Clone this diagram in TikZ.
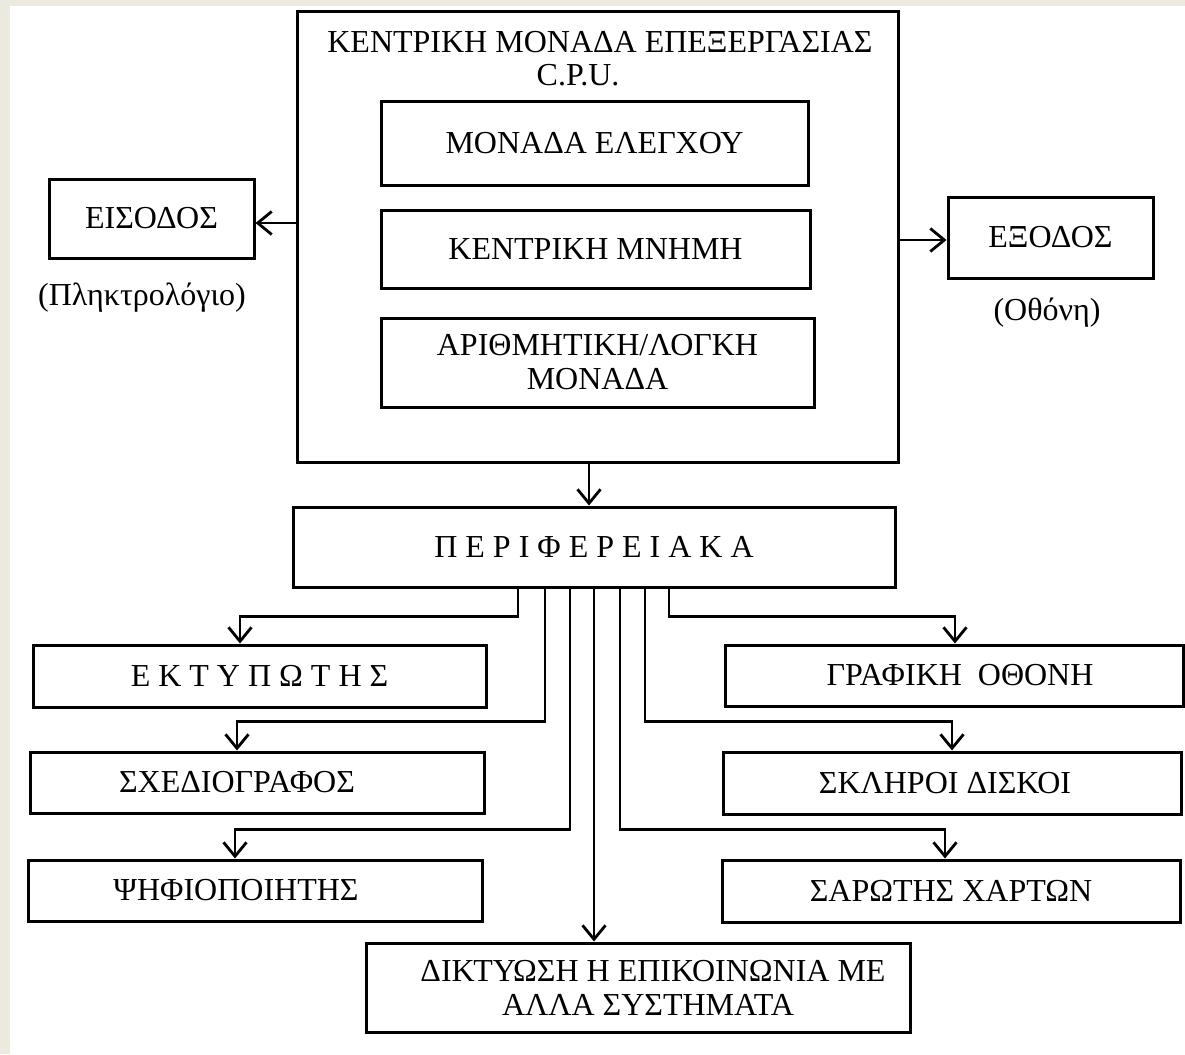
\documentclass[tikz,border=0pt]{standalone}
\usepackage{fontspec}
\setmainfont{Liberation Serif}
\usetikzlibrary{arrows.meta}
\definecolor{bgbeige}{RGB}{236,233,222}
\begin{document}
\begin{tikzpicture}[x=1pt,y=-1pt,
  box/.style={draw, line width=3pt, rectangle, inner sep=0pt, align=center,
    font=\fontsize{32}{34}\selectfont},
  txt/.style={inner sep=0pt, align=center, font=\fontsize{32}{34}\selectfont},
  arr/.style={line width=2.8pt, -{Straight Barb[length=14pt,width=23pt]}},
  ln/.style={line width=2.8pt}
]
\useasboundingbox (0,0) rectangle (1185,1054);
\fill[bgbeige] (0,0) rectangle (1185,1054);
\fill[white] (10,6) rectangle (1185,1054);

% CPU
\node[box, minimum width=601pt, minimum height=450pt] (cpu) at (597.5,237) {};
\node[txt] (cput1) at (600,42) {ΚΕΝΤΡΙΚΗ ΜΟΝΑΔΑ ΕΠΕΞΕΡΓΑΣΙΑΣ};
\node[txt] (cput2) at (578,75) {C.P.U.};
\node[box, minimum width=427pt, minimum height=83pt] (ctrl) at (594.5,143.5) {ΜΟΝΑΔΑ ΕΛΕΓΧΟΥ};
\node[box, minimum width=429pt, minimum height=78pt] (mem) at (595.5,249) {ΚΕΝΤΡΙΚΗ ΜΝΗΜΗ};
\node[box, minimum width=433pt, minimum height=89pt] (alu) at (597.5,362.5) {ΑΡΙΘΜΗΤΙΚΗ/ΛΟΓΚΗ\\ΜΟΝΑΔΑ};

% input / output
\node[box, minimum width=205pt, minimum height=79pt] (eis) at (151.5,218.5) {ΕΙΣΟΔΟΣ};
\node[txt] (eisl) at (142,298) {(Πληκτρολόγιο)};
\node[box, minimum width=205pt, minimum height=81pt] (exo) at (1050.5,237.5) {ΕΞΟΔΟΣ};
\node[txt] (exol) at (1047,313) {(Οθόνη)};

% peripherals
\node[box, minimum width=602pt, minimum height=80pt] (peri) at (594,547) {Π Ε Ρ Ι Φ Ε Ρ Ε Ι Α Κ Α};
\node[box, minimum width=453pt, minimum height=62pt] (prn) at (259.5,676) {Ε Κ Τ Υ Π Ω Τ Η Σ};
\node[box, minimum width=454pt, minimum height=61pt] (plot) at (257,782.5) {ΣΧΕΔΙΟΓΡΑΦΟΣ\hspace{40pt}};
\node[box, minimum width=454pt, minimum height=61pt] (dig) at (255,890.5) {ΨΗΦΙΟΠΟΙΗΤΗΣ\hspace{38pt}};
\node[box, minimum width=458pt, minimum height=61pt] (gfx) at (954,675.5) {\hspace{12pt}ΓΡΑΦΙΚΗ\ \ ΟΘΟΝΗ};
\node[box, minimum width=458pt, minimum height=62pt] (hdd) at (952,783) {ΣΚΛΗΡΟΙ ΔΙΣΚΟΙ\hspace{14pt}};
\node[box, minimum width=458pt, minimum height=62pt] (scan) at (951,891) {ΣΑΡΩΤΗΣ ΧΑΡΤΩΝ};
\node[box, minimum width=544pt, minimum height=89pt] (net) at (638,987.5) {\hspace{30pt}ΔΙΚΤΥΩΣΗ Η ΕΠΙΚΟΙΝΩΝΙΑ ΜΕ\\\hspace{20pt}ΑΛΛΑ ΣΥΣΤΗΜΑΤΑ};

% connectors
\draw[arr] ([yshift=-4.5pt]eis.east -| cpu.west) -- ([yshift=-4.5pt]eis.east);
\draw[arr] ([yshift=-2.5pt]exo.west -| cpu.east) -- ([yshift=-2.5pt]exo.west);
\draw[arr] ([xshift=-8.5pt]cpu.south) -- ([xshift=-8.5pt]cpu.south |- peri.north);

\draw[arr] ([xshift=-76pt]peri.south) -- ++(0,28) -| ([xshift=-19.5pt]prn.north);
\draw[arr] ([xshift=-49pt]peri.south) -- ++(0,133) -| ([xshift=-20pt]plot.north);
\draw[arr] ([xshift=-24pt]peri.south) -- ++(0,241) -| ([xshift=-20pt]dig.north);
\draw[arr] (peri.south) -- (peri.south |- net.north);
\draw[arr] ([xshift=26pt]peri.south) -- ++(0,241) -| ([xshift=-6pt]scan.north);
\draw[arr] ([xshift=51pt]peri.south) -- ++(0,133) -| (hdd.north);
\draw[arr] ([xshift=75pt]peri.south) -- ++(0,28) -| ([xshift=1pt]gfx.north);
\end{tikzpicture}
\end{document}
